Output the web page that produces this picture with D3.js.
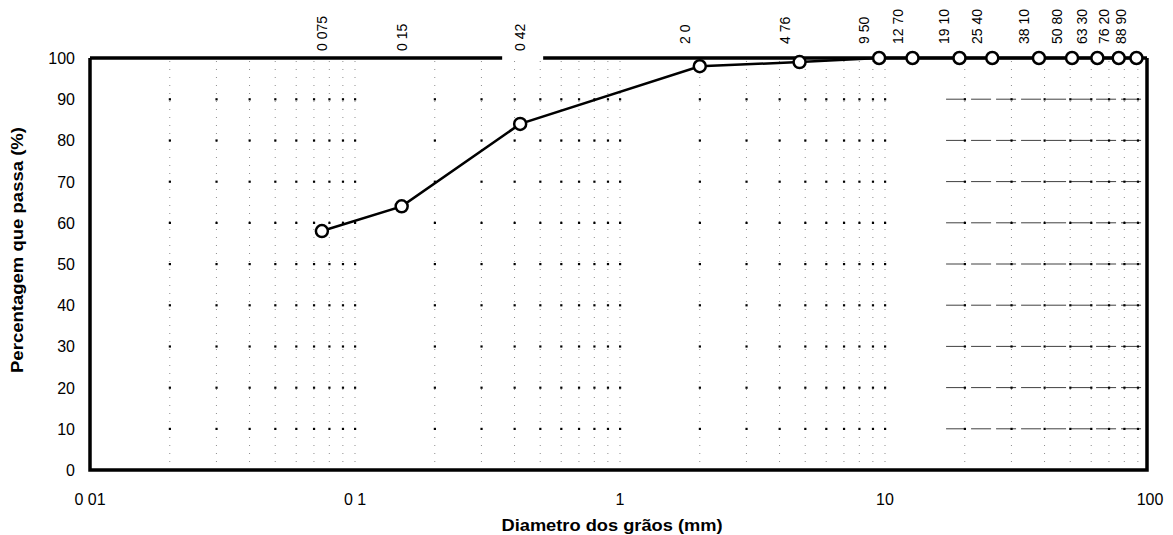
<!DOCTYPE html>
<html>
<head>
<meta charset="utf-8">
<script src="https://cdn.jsdelivr.net/npm/d3@7/dist/d3.min.js"></script>
<style>
  body { margin: 0; background: #fff; }
  text { font-family: Arial, "Liberation Sans", sans-serif; fill: #000; }
</style>
</head>
<body>
<div id="chart"></div>
<script>
// sieve sizes (mm) and percent passing
var sizes = [0.075, 0.15, 0.42, 2.0, 4.76, 9.5, 12.7, 19.1, 25.4, 38.1, 50.8, 63.3, 76.2, 88.9];
var passing = [58, 64, 84, 98, 99, 100, 100, 100, 100, 100, 100, 100, 100, 100];
var sizeLabels = ['0 075', '0 15', '0 42', '2 0', '4 76', '9 50', '12 70', '19 10', '25 40', '38 10', '50 80', '63 30', '76 20', '88 90'];

var xTicks = [0.01, 0.1, 1, 10, 100];
var xTickLabels = ['0 01', '0 1', '1', '10', '100'];
var yTicks = [0, 10, 20, 30, 40, 50, 60, 70, 80, 90, 100];

var w = 1173, h = 535;

var svg = d3.select('#chart').append('svg')
  .attr('width', w)
  .attr('height', h);

var x = d3.scaleLog().domain([0.01, 100]).range([90, 1150]);
var y = d3.scaleLinear().domain([0, 100]).range([470, 58]);
var xRight = x(100) - 3;   // frame sits a touch inside the last decade

// faint scan-like grid: vertical lines at the log subdivisions
var minor = x.ticks().filter(function(d) { return d > 0.01 && d < 100; });
svg.selectAll('.vgrid')
  .data(minor)
  .enter().append('line')
  .attr('class', 'vgrid')
  .attr('x1', function(d) { return x(d); })
  .attr('x2', function(d) { return x(d); })
  .attr('y1', y(0))
  .attr('y2', y(100))
  .attr('stroke', '#000')
  .attr('stroke-width', 1)
  .attr('stroke-opacity', 0.45)
  .attr('stroke-dasharray', '1,7');

// horizontal lines, only readable in the coarse decade
svg.selectAll('.hgrid')
  .data(yTicks.filter(function(d) { return d > 0 && d < 100; }))
  .enter().append('line')
  .attr('class', 'hgrid')
  .attr('x1', x(17))
  .attr('x2', xRight)
  .attr('y1', function(d) { return y(d); })
  .attr('y2', function(d) { return y(d); })
  .attr('stroke', '#000')
  .attr('stroke-width', 1)
  .attr('stroke-opacity', 0.75)
  .attr('stroke-dasharray', '20,5');

// dots where grid lines cross
var cross = [];
minor.forEach(function(m) {
  yTicks.forEach(function(v) {
    if (v > 0 && v < 100) cross.push([m, v]);
  });
});
svg.selectAll('.dot')
  .data(cross)
  .enter().append('rect')
  .attr('class', 'dot')
  .attr('x', function(d) { return x(d[0]) - 1; })
  .attr('y', function(d) { return y(d[1]) - 1; })
  .attr('width', 2.2)
  .attr('height', 2.2)
  .attr('fill', '#000');

// frame (top line broken under the 0 42 label)
var gapL = x(sizes[2]) - 18, gapR = x(sizes[2]) + 23;
svg.append('path')
  .attr('d', 'M' + x(0.01) + ',' + y(100) + 'V' + y(0) + 'H' + xRight + 'V' + y(100))
  .attr('fill', 'none')
  .attr('stroke', '#000')
  .attr('stroke-width', 3.5);
svg.append('line')
  .attr('x1', x(0.01)).attr('x2', gapL)
  .attr('y1', y(100)).attr('y2', y(100))
  .attr('stroke', '#000').attr('stroke-width', 3.5);
svg.append('line')
  .attr('x1', gapR).attr('x2', xRight)
  .attr('y1', y(100)).attr('y2', y(100))
  .attr('stroke', '#000').attr('stroke-width', 3.5);

// y tick labels
svg.selectAll('.ylab')
  .data(yTicks)
  .enter().append('text')
  .attr('class', 'ylab')
  .attr('x', 75)
  .attr('y', function(d) { return y(d) + 6; })
  .attr('text-anchor', 'end')
  .style('font-size', '16px')
  .text(function(d) { return d; });

// x tick labels
svg.selectAll('.xlab')
  .data(xTicks)
  .enter().append('text')
  .attr('class', 'xlab')
  .attr('x', function(d) { return x(d); })
  .attr('y', 505)
  .attr('text-anchor', 'middle')
  .style('font-size', '16px')
  .text(function(d, i) { return xTickLabels[i]; });

// sieve labels along the top (coarse sizes sit a bit left of their point)
svg.selectAll('.slab')
  .data(sizes)
  .enter().append('text')
  .attr('class', 'slab')
  .attr('transform', function(d) {
    var bx = x(d) + 5 + (d >= 1 ? -15 : 0);
    var by = d >= 1 ? 44 : 51;
    return 'translate(' + bx + ',' + by + ') rotate(-90)';
  })
  .attr('text-anchor', 'start')
  .style('font-size', '14px')
  .text(function(d, i) { return sizeLabels[i]; });

// axis titles
svg.append('text')
  .attr('transform', 'translate(23,250) rotate(-90)')
  .attr('text-anchor', 'middle')
  .attr('textLength', 246)
  .attr('lengthAdjust', 'spacingAndGlyphs')
  .style('font-size', '16px')
  .style('font-weight', 'bold')
  .text('Percentagem que passa (%)');

svg.append('text')
  .attr('x', 612)
  .attr('y', 531)
  .attr('text-anchor', 'middle')
  .attr('textLength', 221)
  .attr('lengthAdjust', 'spacingAndGlyphs')
  .style('font-size', '16px')
  .style('font-weight', 'bold')
  .text('Diametro dos grãos (mm)');

// grading curve
var pts = sizes.map(function(s, i) { return [s, passing[i]]; });
svg.append('path')
  .datum(pts)
  .attr('d', d3.line()
    .x(function(d) { return x(d[0]); })
    .y(function(d) { return y(d[1]); }))
  .attr('fill', 'none')
  .attr('stroke', '#000')
  .attr('stroke-width', 2.5);

svg.selectAll('.pt')
  .data(pts)
  .enter().append('circle')
  .attr('class', 'pt')
  .attr('cx', function(d) { return x(d[0]); })
  .attr('cy', function(d) { return y(d[1]); })
  .attr('r', 6)
  .attr('fill', '#fff')
  .attr('stroke', '#000')
  .attr('stroke-width', 2.5);
</script>
</body>
</html>
